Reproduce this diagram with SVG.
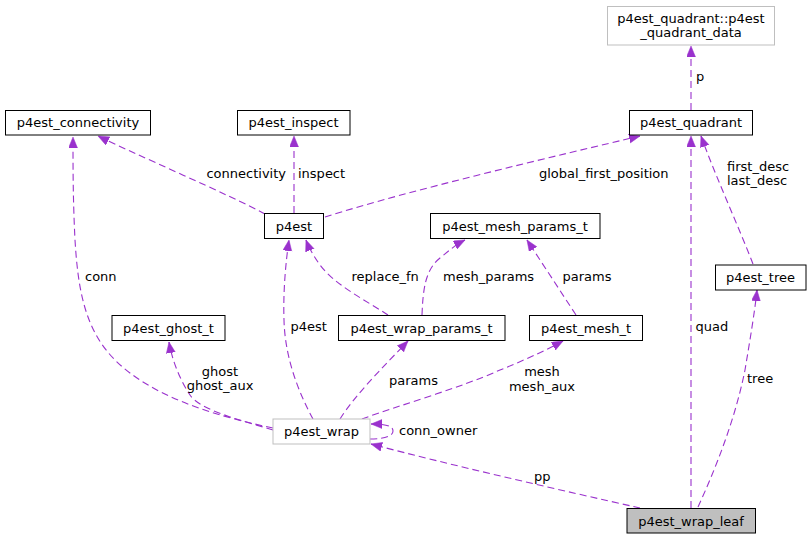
<svg xmlns="http://www.w3.org/2000/svg" width="811" height="540" viewBox="0 0 811 540">
<style>
text{font-family:"DejaVu Sans","Liberation Sans",sans-serif;font-size:13px;fill:#000}
.n rect{fill:#fff;stroke:#000;stroke-width:1}
.g rect{fill:#fff;stroke:#bfbfbf;stroke-width:1}
.leaf rect{fill:#bfbfbf;stroke:#000;stroke-width:1}
.n text,.g text,.leaf text{text-anchor:middle}
.e path{fill:none;stroke:#9a32cd;stroke-width:1.1;stroke-dasharray:7,4;marker-end:url(#ah)}
.m{text-anchor:middle}
.r{text-anchor:end}
</style>
<defs>
<marker id="ah" markerUnits="userSpaceOnUse" markerWidth="12" markerHeight="10" refX="11" refY="4.5" orient="auto">
<path d="M0,0 L11,4.5 L0,9 z" fill="#9a32cd" stroke="#9a32cd" stroke-width="0.5"/>
</marker>
</defs>
<rect width="811" height="540" fill="#fff"/>
<g id="edges" class="e">
<path d="M691,110 L691,46"/>
<path d="M265,214 C230,195 130,152 98,136"/>
<path d="M294,213 L294,136"/>
<path d="M325,217 C410,190 560,155 640,136"/>
<path d="M273,428 C210,415 150,395 115,360 C85,330 78,290 75,240 C73,200 73,170 73,137"/>
<path d="M273,430 C240,420 200,410 190,395 C180,380 172,360 169,342"/>
<path d="M313,419 C300,395 285,360 284,320 C283,290 286,260 289,240"/>
<path d="M388,315 C365,300 335,285 320,265 C313,255 309,248 306,240"/>
<path d="M422,315 C423,290 425,270 440,258 C450,250 455,245 465,240"/>
<path d="M576,315 L527,240"/>
<path d="M340,419 C355,395 385,365 408,341"/>
<path d="M362,419 C400,405 460,388 500,370 C530,358 550,348 563,341"/>
<path d="M370,439 C385,439 393,436 393,431 C393,426 386,424 371,424"/>
<path d="M640,508 C560,490 450,465 371,444"/>
<path d="M691,508 L691,136"/>
<path d="M753,264 C740,230 715,175 701,136"/>
<path d="M698,507 C715,470 735,420 745,370 C750,340 755,310 757,290"/>
</g>
<g id="labels">
<text x="696" y="81">p</text>
<text class="r" x="286" y="177.5">connectivity</text>
<text x="298" y="177.5">inspect</text>
<text x="539" y="177.5">global_first_position</text>
<text x="727" y="170.5">first_desc</text>
<text x="727" y="185">last_desc</text>
<text x="85" y="281">conn</text>
<text x="351.5" y="281">replace_fn</text>
<text x="443" y="281">mesh_params</text>
<text x="562.5" y="281">params</text>
<text x="290.5" y="331">p4est</text>
<text x="695.5" y="331">quad</text>
<text class="m" x="220" y="375.5">ghost</text>
<text class="m" x="220" y="390">ghost_aux</text>
<text x="389" y="384.5">params</text>
<text class="m" x="542" y="376">mesh</text>
<text class="m" x="542" y="390.5">mesh_aux</text>
<text x="747" y="383">tree</text>
<text x="399" y="435">conn_owner</text>
<text x="534" y="480.5">pp</text>
</g>
<g id="node_quadrant_data" class="g"><rect x="607.5" y="6.5" width="167" height="38.5"/><text x="691" y="22.5">p4est_quadrant::p4est</text><text x="691" y="37">_quadrant_data</text></g>
<g id="node_connectivity" class="n"><rect x="5.5" y="110.5" width="145" height="24.5"/><text x="78" y="127">p4est_connectivity</text></g>
<g id="node_inspect" class="n"><rect x="237.5" y="110.5" width="112.5" height="24.5"/><text x="293.5" y="127">p4est_inspect</text></g>
<g id="node_quadrant" class="n"><rect x="629.5" y="110.5" width="123" height="24.5"/><text x="691" y="127">p4est_quadrant</text></g>
<g id="node_p4est" class="n"><rect x="264.5" y="213.5" width="59" height="25"/><text x="294" y="230.5">p4est</text></g>
<g id="node_mesh_params" class="n"><rect x="430.5" y="213.5" width="169.5" height="25"/><text x="515" y="230.5">p4est_mesh_params_t</text></g>
<g id="node_tree" class="n"><rect x="715.5" y="265" width="90.5" height="25"/><text x="760.5" y="282">p4est_tree</text></g>
<g id="node_ghost" class="n"><rect x="112" y="315.5" width="113" height="25"/><text x="168.5" y="332.5">p4est_ghost_t</text></g>
<g id="node_wrap_params" class="n"><rect x="338.5" y="315.5" width="166.5" height="25"/><text x="421.5" y="332.5">p4est_wrap_params_t</text></g>
<g id="node_mesh" class="n"><rect x="529.5" y="315.5" width="113" height="25"/><text x="586" y="332.5">p4est_mesh_t</text></g>
<g id="node_wrap" class="g"><rect x="273" y="419" width="97" height="25"/><text x="321.5" y="436">p4est_wrap</text></g>
<g id="node_wrap_leaf" class="leaf"><rect x="627" y="508.5" width="128.5" height="24.5"/><text x="691" y="525.5">p4est_wrap_leaf</text></g>
</svg>
